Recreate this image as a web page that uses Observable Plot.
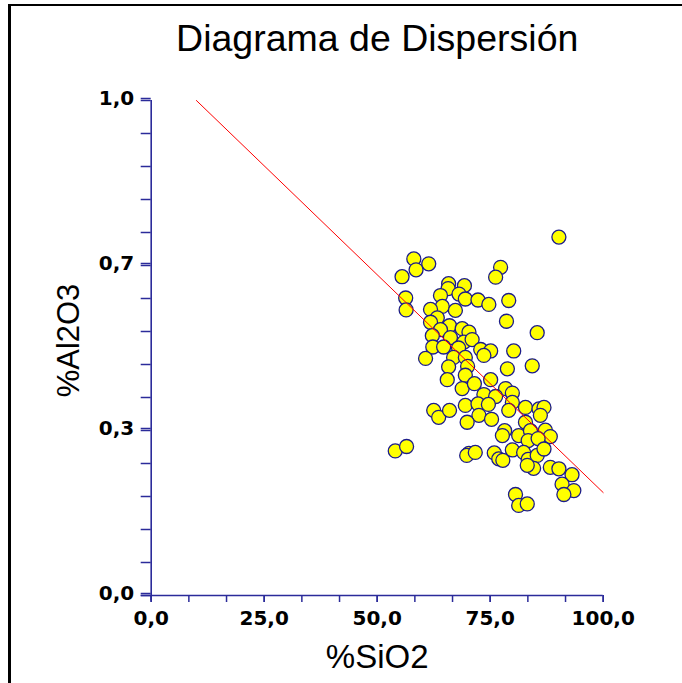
<!DOCTYPE html>
<html>
<head>
<meta charset="utf-8">
<script src="https://cdn.jsdelivr.net/npm/d3@7"></script>
<script src="https://cdn.jsdelivr.net/npm/@observablehq/plot@0.6"></script>
<style>
  html, body { margin: 0; padding: 0; background: #fff; }
  #wrap { position: relative; width: 682px; height: 683px; overflow: hidden; }
  #frame { position: absolute; left: 8px; top: 4px; right: -4px; bottom: -4px;
           border-left: 3px solid #000; border-top: 2px solid #000; pointer-events: none; }
  #wrap svg { position: absolute; left: 0; top: 0; }
</style>
</head>
<body>
<div id="wrap"><div id="frame"></div></div>
<script>
// %SiO2 and %Al2O3 of each sample
const sio2 = [
  90.2, 58.1, 61.4, 58.6, 55.5, 77.3, 76.2, 56.3, 56.4,
  65.8, 65.7, 69.3, 64.0, 68.1, 69.5, 72.3, 74.7, 79.1, 64.4, 67.3, 61.8, 78.6, 85.4,
  63.3, 61.8, 66.0, 64.0, 68.8, 70.3, 62.2, 66.2, 69.2, 71.0, 62.3, 64.7, 68.0, 72.9,
  75.1, 80.2, 60.7, 66.9, 69.5, 73.6, 65.8, 70.0, 78.8, 84.3, 65.5, 69.5, 75.1, 68.8,
  71.5, 78.4, 79.9, 73.6, 76.2, 79.9, 69.5, 72.3, 74.6, 79.1, 82.8, 85.8, 86.9, 62.5,
  63.6, 66.0, 72.5, 69.9, 75.3, 82.8, 86.1, 78.2, 77.7, 81.3, 83.9, 87.2, 88.3, 83.4,
  85.6, 54.0, 56.5, 70.3, 69.8, 71.7, 75.9, 76.9, 77.8, 79.9, 82.4, 83.4, 85.4, 86.9,
  84.6, 83.2, 88.3, 90.2, 93.1, 90.9, 93.5, 91.3, 80.6, 81.3, 83.2
];
const al2o3 = [
  0.724, 0.680, 0.670, 0.658, 0.644, 0.663, 0.643, 0.601, 0.577,
  0.630, 0.620, 0.626, 0.606, 0.609, 0.599, 0.597, 0.588, 0.596, 0.584, 0.576, 0.578, 0.554, 0.531,
  0.561, 0.552, 0.545, 0.537, 0.539, 0.532, 0.525, 0.521, 0.512, 0.517, 0.502, 0.502, 0.500, 0.497,
  0.494, 0.494, 0.479, 0.481, 0.481, 0.485, 0.462, 0.463, 0.458, 0.464, 0.436, 0.445, 0.436, 0.418,
  0.428, 0.418, 0.409, 0.406, 0.402, 0.390, 0.384, 0.387, 0.386, 0.374, 0.380, 0.377, 0.380, 0.374,
  0.360, 0.374, 0.364, 0.350, 0.356, 0.350, 0.364, 0.333, 0.323, 0.323, 0.333, 0.334, 0.321, 0.313,
  0.317, 0.292, 0.301, 0.287, 0.283, 0.289, 0.288, 0.276, 0.273, 0.294, 0.289, 0.275, 0.283, 0.296,
  0.257, 0.263, 0.259, 0.256, 0.244, 0.225, 0.212, 0.204, 0.204, 0.182, 0.185
];

// fitted line, drawn from the top of the y range to the right end of the x range
const fitX = [10, 100];
const fitY = [1.0, 0.208];

// axis ticks and labels
const xTicks = [0, 25, 50, 75, 100];
const xTickLabels = ["0,0", "25,0", "50,0", "75,0", "100,0"];
const xMinorTicks = d3.range(0, 13).map(k => k * 25 / 3);
const yTicks = [0, 1 / 3, 2 / 3, 1];
const yTickLabels = ["0,0", "0,3", "0,7", "1,0"];
const yMinorTicks = d3.range(0, 16).map(k => k / 15);

const samples = sio2.map((x, i) => ({x, y: al2o3[i]}));
const fit = fitX.map((x, i) => ({x, y: fitY[i]}));

const axisColor = "#2b2b9a";
const tickFont = "DejaVu Sans, Verdana, sans-serif";
const textFont = "Liberation Sans, Arial, Helvetica, sans-serif";

const chart = Plot.plot({
  width: 682,
  height: 683,
  marginLeft: 150.7,
  marginRight: 79.3,
  marginTop: 100,
  marginBottom: 88,
  style: {fontFamily: textFont, background: "transparent", color: "#000"},
  x: {domain: [0, 100]},
  y: {domain: [0, 1]},
  marks: [
    // minor ticks
    Plot.axisY(yMinorTicks, {anchor: "left", tickSize: 10, tickFormat: () => "", stroke: axisColor, strokeWidth: 1.5, label: null}),
    Plot.axisX(xMinorTicks, {anchor: "bottom", tickSize: 7, tickFormat: () => "", stroke: axisColor, strokeWidth: 1.5, label: null}),
    // labelled ticks
    Plot.axisY(yTicks, {
      anchor: "left", tickSize: 10, tickPadding: 7, stroke: axisColor, strokeWidth: 1.5,
      tickFormat: d => yTickLabels[yTicks.indexOf(d)],
      fill: "#000", fontSize: 20, fontWeight: "bold", fontFamily: tickFont, dy: -2, label: null
    }),
    Plot.axisX(xTicks, {
      anchor: "bottom", tickSize: 7, tickPadding: 8, stroke: axisColor, strokeWidth: 1.5,
      tickFormat: d => xTickLabels[xTicks.indexOf(d)],
      fill: "#000", fontSize: 20, fontWeight: "bold", fontFamily: tickFont, label: null
    }),
    // axis lines
    Plot.ruleX([0], {y1: -0.011, y2: 1, stroke: axisColor, strokeWidth: 1.6}),
    Plot.ruleY([0], {x1: -2.2, x2: 100, stroke: axisColor, strokeWidth: 1.6}),
    // samples
    Plot.dot(samples, {x: "x", y: "y", r: 7, fill: "#ffff00", stroke: "#1c1c8a", strokeWidth: 1.3}),
    // fitted line
    Plot.line(fit, {x: "x", y: "y", stroke: "#ff0000", strokeWidth: 1}),
    // titles
    Plot.text(["Diagrama de Dispersión"], {frameAnchor: "top", lineAnchor: "middle", textAnchor: "middle", dy: -61.5, fontSize: 37.5, fill: "#000"}),
    Plot.text(["%SiO2"], {frameAnchor: "bottom", lineAnchor: "middle", textAnchor: "middle", dy: 61.8, fontSize: 33, fill: "#000"}),
    Plot.text(["%Al2O3"], {frameAnchor: "left", lineAnchor: "middle", textAnchor: "middle", dx: -81.7, dy: -7.5, rotate: -90, fontSize: 31, fill: "#000"})
  ]
});

document.getElementById("wrap").prepend(chart);
</script>
</body>
</html>
